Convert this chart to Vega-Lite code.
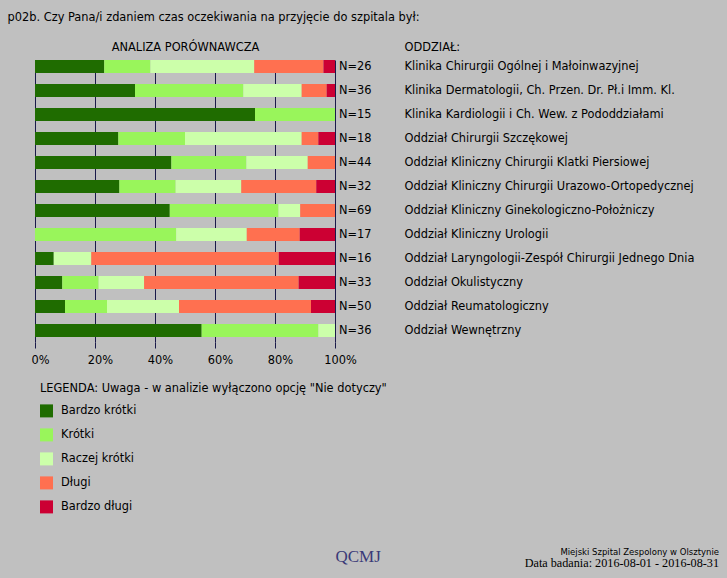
{
  "$schema": "https://vega.github.io/schema/vega-lite/v6.json",
  "width": 300,
  "height": 282,
  "autosize": {"type": "none"},
  "padding": {"left": 35, "top": 60, "right": 392, "bottom": 236},
  "background": "#c0c0c0",
  "title": {
    "text": "Miejski Szpital Zespolony w Olsztynie",
    "subtitle": "Data badania: 2016-08-01 - 2016-08-31",
    "orient": "bottom",
    "anchor": "end",
    "frame": "group",
    "dx": 384,
    "offset": -16,
    "font": "DejaVu Sans",
    "fontSize": 8.5,
    "fontWeight": "normal",
    "color": "#000000",
    "subtitleFont": "Liberation Serif",
    "subtitleFontSize": 12.2,
    "subtitleColor": "#000000",
    "subtitlePadding": 0.5
  },
  "datasets": {
    "segments": [
      {"dept": "Klinika Chirurgii Ogólnej i Małoinwazyjnej", "cat": "Bardzo krótki", "k": 1, "count": 6},
      {"dept": "Klinika Chirurgii Ogólnej i Małoinwazyjnej", "cat": "Krótki", "k": 2, "count": 4},
      {"dept": "Klinika Chirurgii Ogólnej i Małoinwazyjnej", "cat": "Raczej krótki", "k": 3, "count": 9},
      {"dept": "Klinika Chirurgii Ogólnej i Małoinwazyjnej", "cat": "Długi", "k": 4, "count": 6},
      {"dept": "Klinika Chirurgii Ogólnej i Małoinwazyjnej", "cat": "Bardzo długi", "k": 5, "count": 1},
      {"dept": "Klinika Dermatologii, Ch. Przen. Dr. Pł.i Imm. Kl.", "cat": "Bardzo krótki", "k": 1, "count": 12},
      {"dept": "Klinika Dermatologii, Ch. Przen. Dr. Pł.i Imm. Kl.", "cat": "Krótki", "k": 2, "count": 13},
      {"dept": "Klinika Dermatologii, Ch. Przen. Dr. Pł.i Imm. Kl.", "cat": "Raczej krótki", "k": 3, "count": 7},
      {"dept": "Klinika Dermatologii, Ch. Przen. Dr. Pł.i Imm. Kl.", "cat": "Długi", "k": 4, "count": 3},
      {"dept": "Klinika Dermatologii, Ch. Przen. Dr. Pł.i Imm. Kl.", "cat": "Bardzo długi", "k": 5, "count": 1},
      {"dept": "Klinika Kardiologii i Ch. Wew. z Pododdziałami", "cat": "Bardzo krótki", "k": 1, "count": 11},
      {"dept": "Klinika Kardiologii i Ch. Wew. z Pododdziałami", "cat": "Krótki", "k": 2, "count": 4},
      {"dept": "Oddział Chirurgii Szczękowej", "cat": "Bardzo krótki", "k": 1, "count": 5},
      {"dept": "Oddział Chirurgii Szczękowej", "cat": "Krótki", "k": 2, "count": 4},
      {"dept": "Oddział Chirurgii Szczękowej", "cat": "Raczej krótki", "k": 3, "count": 7},
      {"dept": "Oddział Chirurgii Szczękowej", "cat": "Długi", "k": 4, "count": 1},
      {"dept": "Oddział Chirurgii Szczękowej", "cat": "Bardzo długi", "k": 5, "count": 1},
      {"dept": "Oddział Kliniczny Chirurgii Klatki Piersiowej", "cat": "Bardzo krótki", "k": 1, "count": 20},
      {"dept": "Oddział Kliniczny Chirurgii Klatki Piersiowej", "cat": "Krótki", "k": 2, "count": 11},
      {"dept": "Oddział Kliniczny Chirurgii Klatki Piersiowej", "cat": "Raczej krótki", "k": 3, "count": 9},
      {"dept": "Oddział Kliniczny Chirurgii Klatki Piersiowej", "cat": "Długi", "k": 4, "count": 4},
      {"dept": "Oddział Kliniczny Chirurgii Urazowo-Ortopedycznej", "cat": "Bardzo krótki", "k": 1, "count": 9},
      {"dept": "Oddział Kliniczny Chirurgii Urazowo-Ortopedycznej", "cat": "Krótki", "k": 2, "count": 6},
      {"dept": "Oddział Kliniczny Chirurgii Urazowo-Ortopedycznej", "cat": "Raczej krótki", "k": 3, "count": 7},
      {"dept": "Oddział Kliniczny Chirurgii Urazowo-Ortopedycznej", "cat": "Długi", "k": 4, "count": 8},
      {"dept": "Oddział Kliniczny Chirurgii Urazowo-Ortopedycznej", "cat": "Bardzo długi", "k": 5, "count": 2},
      {"dept": "Oddział Kliniczny Ginekologiczno-Położniczy", "cat": "Bardzo krótki", "k": 1, "count": 31},
      {"dept": "Oddział Kliniczny Ginekologiczno-Położniczy", "cat": "Krótki", "k": 2, "count": 25},
      {"dept": "Oddział Kliniczny Ginekologiczno-Położniczy", "cat": "Raczej krótki", "k": 3, "count": 5},
      {"dept": "Oddział Kliniczny Ginekologiczno-Położniczy", "cat": "Długi", "k": 4, "count": 8},
      {"dept": "Oddział Kliniczny Urologii", "cat": "Krótki", "k": 2, "count": 8},
      {"dept": "Oddział Kliniczny Urologii", "cat": "Raczej krótki", "k": 3, "count": 4},
      {"dept": "Oddział Kliniczny Urologii", "cat": "Długi", "k": 4, "count": 3},
      {"dept": "Oddział Kliniczny Urologii", "cat": "Bardzo długi", "k": 5, "count": 2},
      {"dept": "Oddział Laryngologii-Zespół Chirurgii Jednego Dnia", "cat": "Bardzo krótki", "k": 1, "count": 1},
      {"dept": "Oddział Laryngologii-Zespół Chirurgii Jednego Dnia", "cat": "Raczej krótki", "k": 3, "count": 2},
      {"dept": "Oddział Laryngologii-Zespół Chirurgii Jednego Dnia", "cat": "Długi", "k": 4, "count": 10},
      {"dept": "Oddział Laryngologii-Zespół Chirurgii Jednego Dnia", "cat": "Bardzo długi", "k": 5, "count": 3},
      {"dept": "Oddział Okulistyczny", "cat": "Bardzo krótki", "k": 1, "count": 3},
      {"dept": "Oddział Okulistyczny", "cat": "Krótki", "k": 2, "count": 4},
      {"dept": "Oddział Okulistyczny", "cat": "Raczej krótki", "k": 3, "count": 5},
      {"dept": "Oddział Okulistyczny", "cat": "Długi", "k": 4, "count": 17},
      {"dept": "Oddział Okulistyczny", "cat": "Bardzo długi", "k": 5, "count": 4},
      {"dept": "Oddział Reumatologiczny", "cat": "Bardzo krótki", "k": 1, "count": 5},
      {"dept": "Oddział Reumatologiczny", "cat": "Krótki", "k": 2, "count": 7},
      {"dept": "Oddział Reumatologiczny", "cat": "Raczej krótki", "k": 3, "count": 12},
      {"dept": "Oddział Reumatologiczny", "cat": "Długi", "k": 4, "count": 22},
      {"dept": "Oddział Reumatologiczny", "cat": "Bardzo długi", "k": 5, "count": 4},
      {"dept": "Oddział Wewnętrzny", "cat": "Bardzo krótki", "k": 1, "count": 20},
      {"dept": "Oddział Wewnętrzny", "cat": "Krótki", "k": 2, "count": 14},
      {"dept": "Oddział Wewnętrzny", "cat": "Raczej krótki", "k": 3, "count": 2}
    ],
    "depts": [
      {"dept": "Klinika Chirurgii Ogólnej i Małoinwazyjnej", "n": 26, "nlabel": "N=26"},
      {"dept": "Klinika Dermatologii, Ch. Przen. Dr. Pł.i Imm. Kl.", "n": 36, "nlabel": "N=36"},
      {"dept": "Klinika Kardiologii i Ch. Wew. z Pododdziałami", "n": 15, "nlabel": "N=15"},
      {"dept": "Oddział Chirurgii Szczękowej", "n": 18, "nlabel": "N=18"},
      {"dept": "Oddział Kliniczny Chirurgii Klatki Piersiowej", "n": 44, "nlabel": "N=44"},
      {"dept": "Oddział Kliniczny Chirurgii Urazowo-Ortopedycznej", "n": 32, "nlabel": "N=32"},
      {"dept": "Oddział Kliniczny Ginekologiczno-Położniczy", "n": 69, "nlabel": "N=69"},
      {"dept": "Oddział Kliniczny Urologii", "n": 17, "nlabel": "N=17"},
      {"dept": "Oddział Laryngologii-Zespół Chirurgii Jednego Dnia", "n": 16, "nlabel": "N=16"},
      {"dept": "Oddział Okulistyczny", "n": 33, "nlabel": "N=33"},
      {"dept": "Oddział Reumatologiczny", "n": 50, "nlabel": "N=50"},
      {"dept": "Oddział Wewnętrzny", "n": 36, "nlabel": "N=36"}
    ]
  },
  "layer": [
    {
      "data": {"name": "segments"},
      "mark": {"type": "bar"},
      "encoding": {
        "y": {
          "field": "dept",
          "type": "nominal",
          "sort": null,
          "scale": {"paddingInner": 0.4583, "paddingOuter": 0.104, "align": 0},
          "axis": {
            "orient": "right",
            "title": "ODDZIAŁ:",
            "titleAngle": 0,
            "titleX": 69,
            "titleY": -10,
            "titleAlign": "left",
            "titleBaseline": "alphabetic",
            "labelPadding": 69,
            "labelAlign": "left",
            "labelLimit": 400,
            "ticks": false,
            "domain": false,
            "grid": false
          }
        },
        "x": {
          "field": "count",
          "type": "quantitative",
          "stack": "normalize",
          "axis": {
            "orient": "bottom",
            "values": [0, 0.2, 0.4, 0.6, 0.8, 1],
            "format": ".0%",
            "grid": true,
            "domain": false,
            "tickSize": 6,
            "labelFlush": false,
            "labelOffset": 5,
            "labelPadding": 6,
            "title": "p02b. Czy Pana/i zdaniem czas oczekiwania na przyjęcie do szpitala był:",
            "titleX": -28,
            "titleY": -322,
            "titleAlign": "left",
            "titleAnchor": "start",
            "titleBaseline": "alphabetic",
            "titleLimit": 700
          }
        },
        "color": {
          "field": "cat",
          "type": "nominal",
          "scale": {
            "domain": ["Bardzo krótki", "Krótki", "Raczej krótki", "Długi", "Bardzo długi"],
            "range": ["#1f6c00", "#99f55b", "#ccffaa", "#ff7050", "#cc0033"]
          },
          "legend": {
            "orient": "none",
            "legendX": 5,
            "legendY": 323,
            "title": "LEGENDA: Uwaga - w analizie wyłączono opcję \"Nie dotyczy\"",
            "titleLimit": 500,
            "symbolType": "square",
            "symbolSize": 169,
            "symbolStrokeWidth": 0,
            "symbolOpacity": 1,
            "labelOffset": 8,
            "rowPadding": 11,
            "titlePadding": 10,
            "padding": 0
          }
        },
        "order": {"field": "k", "type": "quantitative"}
      }
    },
    {
      "data": {"name": "depts"},
      "mark": {"type": "text", "align": "left", "baseline": "middle", "dx": 4},
      "encoding": {
        "y": {
          "field": "dept",
          "type": "nominal",
          "sort": null,
          "scale": {"paddingInner": 0.4583, "paddingOuter": 0.104, "align": 0},
          "axis": {
            "orient": "left",
            "labels": false,
            "ticks": false,
            "domain": false,
            "grid": false,
            "title": "QCMJ",
            "titleAngle": 0,
            "titleX": 300,
            "titleY": 501,
            "titleAlign": "left",
            "titleBaseline": "alphabetic",
            "titleFont": "Liberation Serif",
            "titleFontSize": 17,
            "titleColor": "#3a3a78"
          }
        },
        "x": {
          "datum": 1,
          "type": "quantitative",
          "axis": {
            "orient": "top",
            "labels": false,
            "ticks": false,
            "domain": false,
            "grid": false,
            "title": "ANALIZA  PORÓWNAWCZA",
            "titleX": 150,
            "titleY": -10,
            "titleAlign": "center",
            "titleBaseline": "alphabetic"
          }
        },
        "text": {"field": "nlabel", "type": "nominal"}
      }
    }
  ],
  "resolve": {"axis": {"x": "independent", "y": "independent"}},
  "config": {
    "font": "DejaVu Sans",
    "view": {"stroke": null},
    "axis": {
      "labelFont": "DejaVu Sans",
      "labelFontSize": 11.4,
      "labelColor": "#000000",
      "titleFont": "DejaVu Sans",
      "titleFontSize": 11.4,
      "titleFontWeight": "normal",
      "titleColor": "#000000",
      "gridColor": "#1a1a4a",
      "gridOpacity": 1,
      "gridWidth": 1,
      "tickColor": "#1a1a4a",
      "tickWidth": 1
    },
    "legend": {
      "labelFont": "DejaVu Sans",
      "labelFontSize": 11.4,
      "labelColor": "#000000",
      "titleFont": "DejaVu Sans",
      "titleFontSize": 11.4,
      "titleFontWeight": "normal",
      "titleColor": "#000000"
    },
    "text": {"font": "DejaVu Sans", "fontSize": 11.4, "color": "#000000"}
  }
}
